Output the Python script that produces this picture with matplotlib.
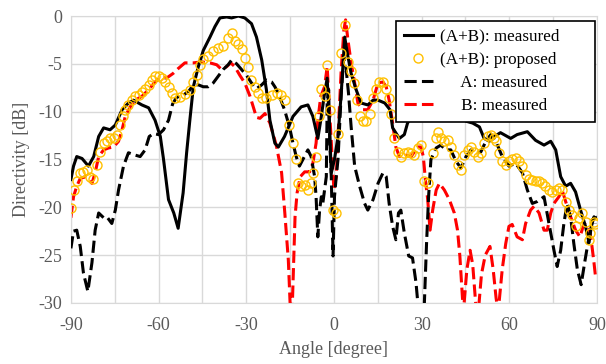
import matplotlib
matplotlib.use("Agg")
import matplotlib.pyplot as plt

plt.rcParams["axes.unicode_minus"] = False

# (A+B): measured  (black solid)
ab_meas_ang = [-90, -89.1, -88, -86.2, -84, -82.2, -80.5, -78.8, -76.6, -74.8, -72.5, -70.3,
               -68.6, -65.7, -63.4, -61.2, -59.4, -58.3, -56.6, -54.8, -53.3, -51.6, -50.4,
               -49.3, -48.1, -46.4, -44.7, -42.4, -40.7, -39.0, -36.7, -35.0, -32.7, -30.5,
               -28.2, -26.5, -24.7, -23.1, -21.9, -20.2, -19.0, -16.9, -14.0, -11.2, -8.9,
               -7.2, -5.5, -4.5, -3.2, -2.3, -1.5, -0.9, 0.2, 1.4, 2.5, 3.7, 4.6, 5.9, 7.6,
               9.3, 11.6, 13.4, 15.1, 17.4, 19.2, 20.1, 22.4, 24.1, 25.2, 28, 32, 36, 40, 43,
               45.2, 47.5, 49.8, 51.4, 53.2, 54.9, 57.0, 60.5, 62.7, 66.2, 69.0, 71.9, 74.2,
               75.9, 77.6, 79.3, 81.0, 82.7, 84.4, 86.1, 87.3, 88.4, 89.6]
ab_meas_db = [-17.1, -15.7, -14.7, -14.9, -15.7, -14.7, -12.6, -11.7, -11.9, -11.4, -9.8, -9.1,
              -8.8, -9.3, -9.6, -10.9, -12.6, -15.0, -19.2, -20.6, -22.2, -18.5, -14.3,
              -10.9, -7.4, -5.3, -3.6, -2.2, -1.1, -0.2, -0.1, -0.2, 0.0, -0.2,
              -0.8, -2.2, -4.6, -7.7, -10.9, -13.3, -13.7, -12.6, -10.5, -9.5, -9.3,
              -10.5, -12.8, -10.9, -8.1, -6.5, -11.6, -16.4, -15.0, -12.6, -8.1, -2.2, -3.9, -6.0, -7.7,
              -9.1, -9.3, -8.8, -8.8, -9.1, -9.8, -11.7, -12.8, -12.4, -11.2, -9.8, -8.9, -9.5, -9.2, -10.2,
              -11.0, -11.2, -11.6, -12.8, -13.1, -12.6, -12.2, -12.8, -12.4, -12.1, -13.0, -13.5, -13.1,
              -14.0, -16.8, -17.8, -17.5, -18.4, -20.3, -22.0, -23.7, -21.3, -21.1]

# (A+B): proposed  (yellow circles)
ab_prop_ang = [-90, -88.8, -88, -86.8, -85.7, -84.5, -83.4, -82.3, -81.1, -80, -78.8, -77.7,
               -76.6, -75.4, -74.3, -73.1, -72.3, -71.4, -70.3, -69.1, -68, -66.8, -65.7,
               -64.6, -63.4, -62.3, -61.2, -60, -58.9, -57.7, -56.6, -55.5, -54.4, -52.7,
               -51, -49.3, -48.1, -47, -45.9, -44.7, -43, -41.3, -39.6, -37.9, -36.2, -35,
               -33.9, -32.7, -31.6, -30.5, -29.3, -28.2, -27.0, -25.9, -24.7, -23.1, -21.3,
               -19.6, -18.1, -16.9, -15.2, -14, -12.9, -12.3, -11.2, -10.0, -8.9, -7.8, -7.2,
               -6.1, -5.2, -4.3, -3.2, -2.3, -1.5, -0.3, 0.8, 1.4, 2.5, 3.7, 4.8, 5.9, 6.9,
               8.0, 8.8, 9.9, 11.1, 12.2, 13.4, 14.5, 15.6, 16.8, 17.9, 18.8, 19.5, 20.6,
               21.8, 22.9, 24.1, 25.2, 26.4, 27.5, 28.7, 29.8, 30.9, 32.1, 33.8, 35.0, 35.5,
               36.6, 37.8, 38.9, 40.0, 41.2, 42.3, 43.5, 44.6, 45.8, 46.9, 48.0, 49.2, 50.3,
               51.4, 52.6, 53.7, 54.9, 55.3, 56.5, 57.6, 58.8, 59.9, 61.0, 62.2, 63.3, 64.5,
               65.6, 66.7, 67.9, 69.0, 70.2, 71.3, 72.4, 73.6, 74.7, 75.9, 77.0, 78.1, 79.3,
               80.4, 81.6, 82.7, 83.9, 85.0, 86.1, 87.3, 87.8, 89.0, 89.5]
ab_prop_db = [-20.1, -18.2, -17.3, -16.4, -16.3, -16.1, -16.8, -17.0, -15.6, -14.2, -13.3, -13.1,
              -12.8, -12.8, -12.4, -11.4, -10.5, -9.8, -9.3, -8.8, -8.4, -8.3, -7.9,
              -7.6, -7.2, -6.7, -6.3, -6.3, -6.5, -6.9, -7.4, -8.0, -8.6, -8.5,
              -8.2, -7.7, -6.9, -6.2, -5.1, -4.5, -4.2, -3.7, -3.3, -3.1, -2.3, -1.8,
              -2.6, -2.9, -3.5, -4.4, -5.3, -6.7, -7.4, -8.1, -8.6, -8.6, -8.3,
              -8.1, -8.3, -8.8, -11.4, -13.3, -15.0, -17.5, -17.8, -17.7, -18.2, -17.5, -16.4,
              -14.7, -10.5, -7.6, -8.4, -5.1, -9.8, -20.3, -20.6, -12.3, -3.9, -0.9, -4.8, -5.8, -7.0,
              -8.8, -10.5, -11.0, -11.0, -10.3, -8.6, -7.6, -6.9, -6.9, -7.6, -8.6, -10.2, -12.8,
              -14.2, -14.7, -14.3, -14.2, -14.3, -14.5, -13.8, -13.5, -17.3, -17.5, -14.3, -12.8, -12.1,
              -12.8, -13.1, -13.0, -13.7, -14.5, -15.6, -16.1, -14.5, -14.0, -13.7, -14.2, -14.7, -14.3,
              -13.3, -12.6, -12.4, -12.8, -13.1, -14.3, -15.2, -15.6, -15.2, -15.0, -14.9, -15.2, -15.7,
              -16.6, -17.0, -17.1, -17.3, -17.3, -17.5, -17.8, -18.2, -18.4, -18.2, -18.0, -18.2, -19.4,
              -20.3, -20.8, -22.0, -21.1, -20.6, -21.5, -23.4, -22.7, -21.5, -21.8]

# A: measured  (black dashed)
a_meas_ang = [-90, -89.1, -88, -86.8, -85.7, -84.2, -82.8, -81.7, -80.5, -78.8, -77.7, -76,
              -74.8, -73.7, -72, -70.3, -68.5, -66.3, -64.6, -63.2, -61.7, -60, -58.3, -56.6,
              -55.2, -53.8, -51.6, -49.5, -48.1, -46.4, -44.7, -43, -41.3, -39.6, -37.9,
              -36.2, -35, -33.3, -31.6, -29.9, -28.2, -26.5, -24.7, -23.1, -21.3, -20.2,
              -19.0, -16.9, -15.2, -14, -12.9, -11.8, -10.6, -8.9, -7.8, -6.6, -6.1, -5.5,
              -4.9, -4.3, -3.8, -3.2, -2.6, -2.3, -1.8, -1.4, -0.9, -0.3, 0.2, 0.8, 1.4,
              2.5, 3.4, 4.2, 5.0, 5.9, 7.1, 8.8, 10.5, 11.6, 13.4, 15.1, 16.8, 17.9, 18.9,
              20.1, 21.2, 22.1, 22.9, 24.1, 25.6, 26.9, 28.1, 29.0, 30.0, 30.9, 31.7, 32.4,
              33.2, 35.0, 36.6, 38.3, 40.0, 41.8, 43.5, 45.2, 46.9, 48.6, 50.3, 52.0, 53.7,
              55.4, 57.6, 59.9, 62.2, 64.5, 66.2, 67.9, 69.6, 71.9, 73.6, 75.3, 76.4, 77.6,
              78.7, 79.8, 81.0, 82.1, 83.3, 84.6, 85.8, 86.9, 88.1, 89.0, 89.5]
a_meas_db = [-24.3, -22.5, -22.4, -24.1, -26.9, -28.8, -25.8, -22.4, -20.6, -21.1, -21.0, -21.7,
             -20.3, -18.2, -15.7, -14.3, -14.5, -14.7, -14.0, -12.6, -12.3, -12.4, -11.9, -10.9,
             -9.2, -8.5, -8.3, -7.8, -7.2, -7.2, -7.4, -7.4, -7.0, -6.3, -5.6,
             -5.1, -4.6, -5.0, -5.6, -6.2, -7.0, -7.6, -7.2, -6.7, -6.9, -7.4,
             -8.1, -9.8, -11.6, -13.3, -14.7, -15.7, -15.0, -14.0, -14.7, -16.8, -18.9, -23.1,
             -20.3, -18.9, -19.6, -18.2, -16.8, -9.1, -7.7, -13.3, -16.8, -25.1, -18.9, -16.8, -15.0,
             -8.1, -4.3, -5.6, -8.1, -11.6, -15.7, -17.8, -19.6, -20.3, -19.2, -17.5, -16.4, -16.8, -19.6,
             -22.0, -23.4, -20.6, -20.3, -22.7, -25.1, -25.3, -27.9, -31, -32, -30.5, -23.8, -18.9,
             -15.0, -13.8, -13.5, -14.0, -14.0, -15.2, -15.9, -14.7, -14.0, -14.3, -14.2, -13.1, -12.4,
             -13.1, -14.7, -15.7, -15.4, -16.4, -18.2, -19.6, -19.4, -18.9, -21.7, -24.5, -26.2, -24.5,
             -21.7, -19.6, -21.0, -23.8, -26.5, -28.1, -25.8, -23.8, -22.0, -21.0, -21.7]

# B: measured  (red dashed)
b_meas_ang = [-90, -89.1, -88, -86.8, -85.1, -82.8, -81.7, -80.5, -78.8, -77.1, -75.4, -73.7,
              -72.5, -71.4, -69.7, -68, -65.7, -63.4, -61.2, -59.2, -57.3, -55, -53.3, -51,
              -48.1, -45.3, -42.4, -40.1, -38.4, -36.7, -35.3, -33.9, -32.2, -30.5, -28.7,
              -27.3, -26.5, -25.3, -23.6, -21.9, -20.2, -19.6, -17.9, -16.8, -15.6, -15.0,
              -14.3, -13.3, -12.6, -11.5, -10.0, -8.3, -7.2, -6.1, -5.5, -4.5, -3.2, -2.3,
              -1.5, -0.7, 0.0, 0.8, 1.4, 2.5, 3.4, 4.0, 4.8, 5.9, 7.1, 8.2, 9.9, 11.6, 13.4,
              15.1, 16.8, 17.9, 18.9, 20.1, 21.2, 22.4, 24.1, 26.4, 28.7, 29.8, 30.6, 31.3,
              32.1, 32.9, 33.8, 35.0, 36.1, 37.8, 39.5, 41.2, 42.3, 43.1, 44.3, 45.5, 46.6,
              47.5, 48.5, 49.4, 50.5, 51.8, 53.4, 54.5, 55.5, 56.2, 57.6, 58.8, 59.9, 61.0,
              62.7, 64.5, 65.6, 67.3, 68.5, 70.2, 71.9, 73.0, 74.2, 75.3, 77.0, 78.1, 79.3,
              81.0, 82.7, 84.2, 85.6, 87.3, 88.2, 89.0, 89.5]
b_meas_db = [-21.1, -18.9, -17.8, -17.0, -16.8, -17.5, -16.4, -14.7, -14.0, -13.8, -13.7, -13.1,
             -11.9, -10.5, -9.5, -8.8, -8.4, -7.7, -6.9, -6.4, -6.5, -6.0, -5.5, -4.9,
             -4.9, -4.8, -4.9, -5.1, -5.6, -5.3, -4.9, -5.3, -6.2, -7.0, -8.4,
             -9.8, -10.6, -10.7, -10.2, -11.2, -13.0, -13.7, -16.4, -20.6, -25.5, -30.0,
             -31.0, -21.0, -18.5, -16.8, -16.3, -16.3, -15.4, -13.3, -10.9, -8.4, -7.4, -5.3,
             -9.8, -14.3, -18.2, -16.8, -12.6, -5.6, -1.5, -0.4, -2.5, -4.9, -7.0, -9.1, -9.8, -9.8, -8.8,
             -7.0, -6.9, -7.4, -8.8, -11.2, -13.7, -14.7, -14.5, -14.7, -13.7, -13.7, -14.7, -17.1,
             -19.2, -22.4, -20.3, -18.2, -17.5, -18.2, -19.2, -20.6, -22.4, -25.1, -31.0, -26.5, -24.5,
             -26.0, -30.0, -31.0, -27.0, -25.0, -24.1, -26.5, -29.5, -31.0, -26.5, -23.8, -22.0, -21.8,
             -23.1, -23.4, -21.7, -20.3, -19.9, -20.6, -22.4, -22.4, -20.6, -19.6, -18.9, -18.2, -19.4,
             -21.0, -22.4, -23.1, -21.7, -22.0, -23.8, -25.8, -27.2]

x_ticks = [-90, -60, -30, 0, 30, 60, 90]
y_ticks = [0, -5, -10, -15, -20, -25, -30]

serif = ["Liberation Serif", "DejaVu Serif"]
grey = "#595959"

fig = plt.figure(figsize=(6.06, 3.64), dpi=100)
ax = fig.add_axes([0.117, 0.168, 0.868, 0.788])

ax.plot(b_meas_ang, b_meas_db, color="red", lw=2.2, dashes=(4, 1.7),
        dash_capstyle="butt", label="     B: measured", zorder=2)
ax.plot(a_meas_ang, a_meas_db, color="black", lw=2.2, dashes=(4, 1.7),
        dash_capstyle="butt", label="     A: measured", zorder=3)
ax.plot(ab_meas_ang, ab_meas_db, color="black", lw=2.2, label="(A+B): measured", zorder=4)
ax.plot(ab_prop_ang, ab_prop_db, ls="none", marker="o", ms=6.5, mfc="none",
        mec="#FFC000", mew=1.0, label="(A+B): proposed", zorder=5)

ax.set_xlim(-90, 90)
ax.set_ylim(-30, 0)
ax.set_xticks(x_ticks)
ax.set_xticks(range(-90, 91, 15), minor=True)
ax.set_yticks(y_ticks)
ax.grid(True, which="both", color="#d9d9d9", lw=1.0)
ax.set_axisbelow(True)
ax.tick_params(which="both", length=0, labelcolor=grey, labelsize=13)
ax.tick_params(axis="x", pad=10)
ax.tick_params(axis="y", pad=6)
for lab in ax.get_xticklabels() + ax.get_yticklabels():
    lab.set_family(serif)
for sp in ax.spines.values():
    sp.set_color("#d9d9d9")

ax.set_xlabel("Angle [degree]", family=serif, fontsize=13, color=grey, labelpad=5)
ax.set_ylabel("Directivity [dB]", family=serif, fontsize=13, color=grey, labelpad=6)

h, l = ax.get_legend_handles_labels()
order = [2, 3, 1, 0]
leg = ax.legend([h[i] for i in order], [l[i] for i in order],
                loc="upper left", bbox_to_anchor=(0.618, 0.634, 0.378, 0.349),
                mode="expand", borderaxespad=0,
                prop={"family": serif, "size": 12.3}, fancybox=False, framealpha=1,
                edgecolor="black", handlelength=1.7, handletextpad=0.4,
                labelspacing=0.42, borderpad=0.45)
leg.get_frame().set_linewidth(1.2)

fig.savefig("out.png", dpi=100)
